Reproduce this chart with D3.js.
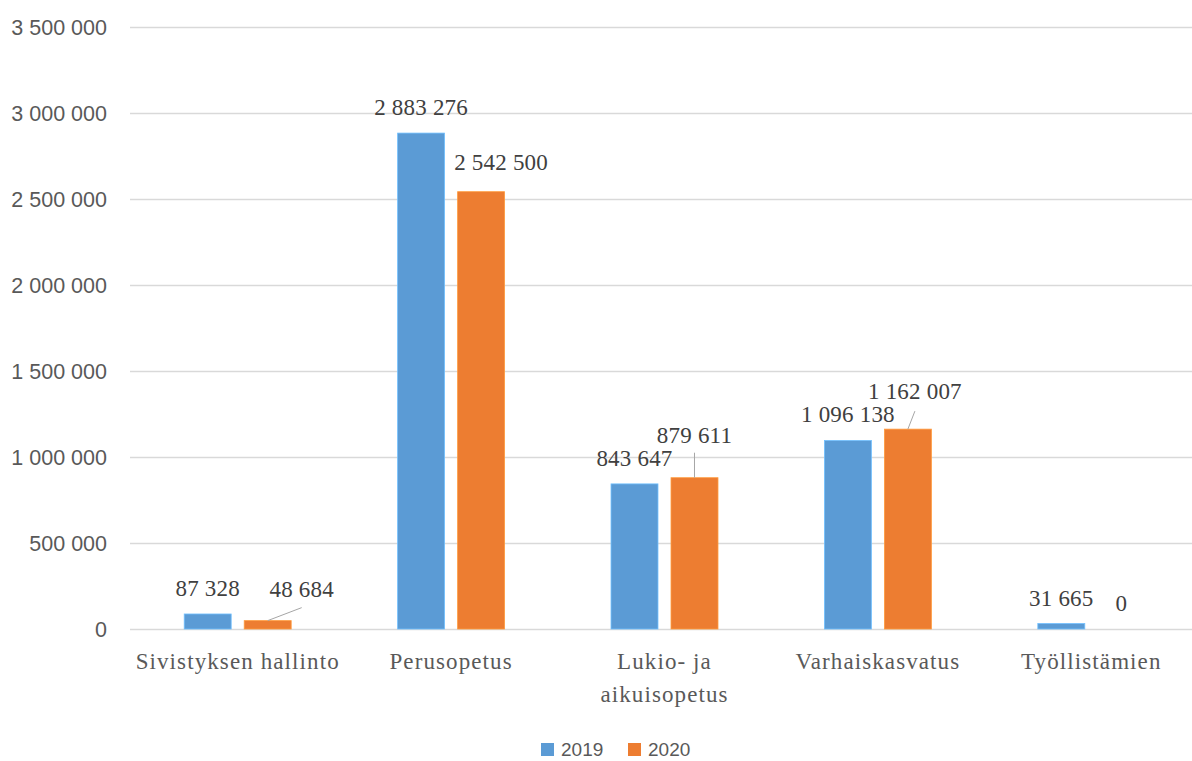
<!DOCTYPE html>
<html>
<head>
<meta charset="utf-8">
<script src="https://cdn.jsdelivr.net/npm/d3@7"></script>
<style>
  html, body { margin: 0; padding: 0; background: #fff; }
  svg { display: block; }
</style>
</head>
<body>
<svg id="chart" width="1192" height="761"></svg>
<script>
// ---- data ----
const categories = [["Sivistyksen hallinto"], ["Perusopetus"], ["Lukio- ja", "aikuisopetus"], ["Varhaiskasvatus"], ["Työllistämien"]];
const seriesNames = ["2019", "2020"];
const values2019 = [87328, 2883276, 843647, 1096138, 31665];
const values2020 = [48684, 2542500, 879611, 1162007, 0];
const yTicks = [0, 500000, 1000000, 1500000, 2000000, 2500000, 3000000, 3500000];

// ---- layout / style ----
const colors = ["#5b9bd5", "#ed7d31"];
const W = 1192, H = 761;
const plot = { left: 131, right: 1198, top: 27, bottom: 629 };
// manual label nudges (dx, baseline offset from bar top, leader line) for labels moved by the author
const nudges = {
  "1-0": { dx: 34, dy: -24, leader: true },
  "1-1": { dx: 20, dy: -22 },
  "1-2": { dx: 0, dy: -35, leader: true },
  "1-3": { dx: 7, dy: -30, leader: true }
};

const fmt = v => d3.format(",")(v).replace(/,/g, " ");
const catKeys = categories.map(c => c.join(" "));

const svg = d3.select("#chart");

const x = d3.scaleBand().domain(catKeys).range([plot.left, plot.right]).padding(0);
const xs = d3.scaleBand().domain(seriesNames).range([0, x.bandwidth()])
  .paddingInner(0.217).paddingOuter(0.887);
const y = d3.scaleLinear().domain([0, 3500000]).range([plot.bottom, plot.top]);

// gridlines
svg.append("g").selectAll("line").data(yTicks).join("line")
  .attr("x1", 130).attr("x2", W)
  .attr("y1", d => Math.round(y(d)) + 0.5).attr("y2", d => Math.round(y(d)) + 0.5)
  .attr("stroke", "#d9d9d9").attr("stroke-width", 1.3);

// y axis labels
const yAxis = d3.axisLeft(y).tickValues(yTicks).tickFormat(fmt).tickSize(0).tickPadding(0);
const gy = svg.append("g").attr("transform", "translate(107,0)").call(yAxis);
gy.select(".domain").remove();
gy.selectAll("text")
  .attr("font-family", "'Liberation Sans', Arial, sans-serif")
  .attr("font-size", 21.5)
  .attr("fill", "#595959")
  .attr("dy", "0.36em");

// bars
const series = [values2019, values2020];
const barData = [];
series.forEach((vals, si) => vals.forEach((v, ci) => barData.push({ si, ci, v })));

svg.append("g").selectAll("rect").data(barData).join("rect")
  .attr("x", d => x(catKeys[d.ci]) + xs(seriesNames[d.si]))
  .attr("width", xs.bandwidth())
  .attr("y", d => y(d.v))
  .attr("height", d => y(0) - y(d.v))
  .attr("fill", d => colors[d.si])
  .attr("stroke", d => d3.color(colors[d.si]).brighter(0.6))
  .attr("stroke-width", 0.8);

// data labels
const labelFont = "'Liberation Serif', 'Times New Roman', serif";
const lg = svg.append("g");
barData.forEach(d => {
  const cx = x(catKeys[d.ci]) + xs(seriesNames[d.si]) + xs.bandwidth() / 2;
  const top = y(d.v);
  const n = nudges[d.si + "-" + d.ci] || { dx: 0, dy: -18 };
  const lx = cx + n.dx, ly = top + n.dy;
  if (n.leader) {
    let x2 = lx, y2 = ly + 8;
    if (d.ci === 0) { x2 = lx; y2 = ly + 11; }
    if (d.ci === 2) { x2 = cx; y2 = ly + 10; }
    if (d.ci === 3) { x2 = lx; y2 = ly + 12; }
    lg.append("line")
      .attr("x1", cx).attr("y1", top)
      .attr("x2", x2).attr("y2", y2)
      .attr("stroke", "#a6a6a6").attr("stroke-width", 1);
  }
  lg.append("text")
    .attr("x", lx).attr("y", ly)
    .attr("text-anchor", "middle")
    .attr("font-family", labelFont)
    .attr("font-size", 23)
    .attr("letter-spacing", 0.2)
    .attr("fill", "#404040")
    .text(fmt(d.v));
});

// category labels
const cg = svg.append("g");
categories.forEach((lines, i) => {
  const t = cg.append("text")
    .attr("x", x(catKeys[i]) + x.bandwidth() / 2)
    .attr("y", 669)
    .attr("text-anchor", "middle")
    .attr("font-family", labelFont)
    .attr("font-size", 23)
    .attr("letter-spacing", 1.1)
    .attr("fill", "#595959");
  lines.forEach((ln, j) => {
    t.append("tspan").attr("x", x(catKeys[i]) + x.bandwidth() / 2)
      .attr("y", 669 + j * 33).text(ln);
  });
});

// legend
const leg = svg.append("g").attr("transform", "translate(541,743)");
const legX = [0, 87];
seriesNames.forEach((s, i) => {
  const g = leg.append("g").attr("transform", `translate(${legX[i]},0)`);
  g.append("rect").attr("width", 13).attr("height", 13).attr("fill", colors[i]);
  g.append("text").attr("x", 20).attr("y", 13)
    .attr("font-family", "'Liberation Sans', Arial, sans-serif")
    .attr("font-size", 19).attr("fill", "#595959").text(s);
});
</script>
</body>
</html>
